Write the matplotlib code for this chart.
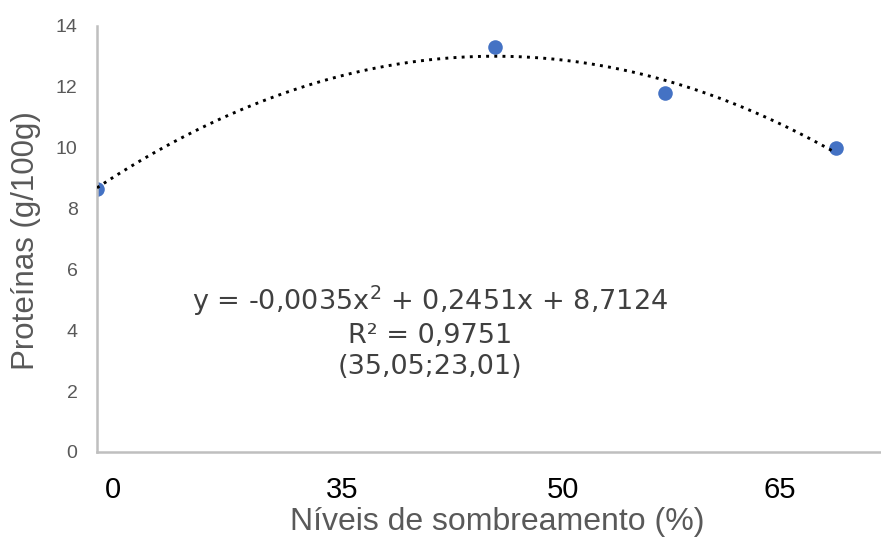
import numpy as np
import matplotlib
matplotlib.use('Agg')
import matplotlib.pyplot as plt

plt.rcParams['font.family'] = ['Liberation Sans', 'DejaVu Sans']
plt.rcParams['mathtext.fontset'] = 'dejavusans'

# shading levels (%) and protein content (g/100g)
sombra = [0, 35, 50, 65]
proteina = [8.64, 13.31, 11.79, 10.0]

# category-like tick labels as they sit on the original axis
xtick_pos = [1.4, 21.6, 41.0, 60.1]
xtick_lab = ['0', '35', '50', '65']
ytick_pos = [0, 2, 4, 6, 8, 10, 12, 14]

eq_text = 'y = -0,0035x$^2$ + 0,2451x + 8,7124\nR² = 0,9751\n(35,05;23,01)'

fig = plt.figure(figsize=(8.81, 5.38), dpi=100)
ax = fig.add_axes([97/881, 1-452/538, 784/881, 426/538])

# polynomial trend (2nd order), as the spreadsheet trendline
coef = np.polyfit(sombra, proteina, 2)
xs = np.linspace(sombra[0], sombra[-1], 200)
ax.plot(xs, np.polyval(coef, xs), color='black', lw=2.1,
        linestyle=(0, (1, 1.8)), zorder=3)

ax.scatter(sombra, proteina, s=110, color='#4472C4', zorder=2, linewidths=0)

ax.set_xlim(0, 69)
ax.set_ylim(0, 14)

ax.set_xticks(xtick_pos)
ax.set_xticklabels(xtick_lab)
ax.set_yticks(ytick_pos)
ax.tick_params(axis='x', length=0, pad=17, labelsize=21, labelcolor='black')
ax.tick_params(axis='y', length=0, pad=14, labelsize=14, labelcolor='#595959')

for s in ['top', 'right']:
    ax.spines[s].set_visible(False)
for s in ['left', 'bottom']:
    ax.spines[s].set_color('#BFBFBF')
    ax.spines[s].set_linewidth(1.8)

ax.set_xlabel('Níveis de sombreamento (%)', fontsize=23, color='#595959')
ax.xaxis.set_label_coords((497-97)/784, (452-522)/426)
ax.xaxis.label.set_va('center')

ax.set_ylabel('Proteínas (g/100g)', fontsize=22.5, color='#595959')
ax.yaxis.set_label_coords((26-97)/784, (452-241)/426)
ax.yaxis.label.set_va('center')

ax.text((430-97)/784, (452-332)/426, eq_text, transform=ax.transAxes,
        ha='center', va='center', fontsize=19.5, color='#404040',
        family='DejaVu Sans', linespacing=1.25, multialignment='center')

plt.savefig('out.png', dpi=100)
plt.close()
